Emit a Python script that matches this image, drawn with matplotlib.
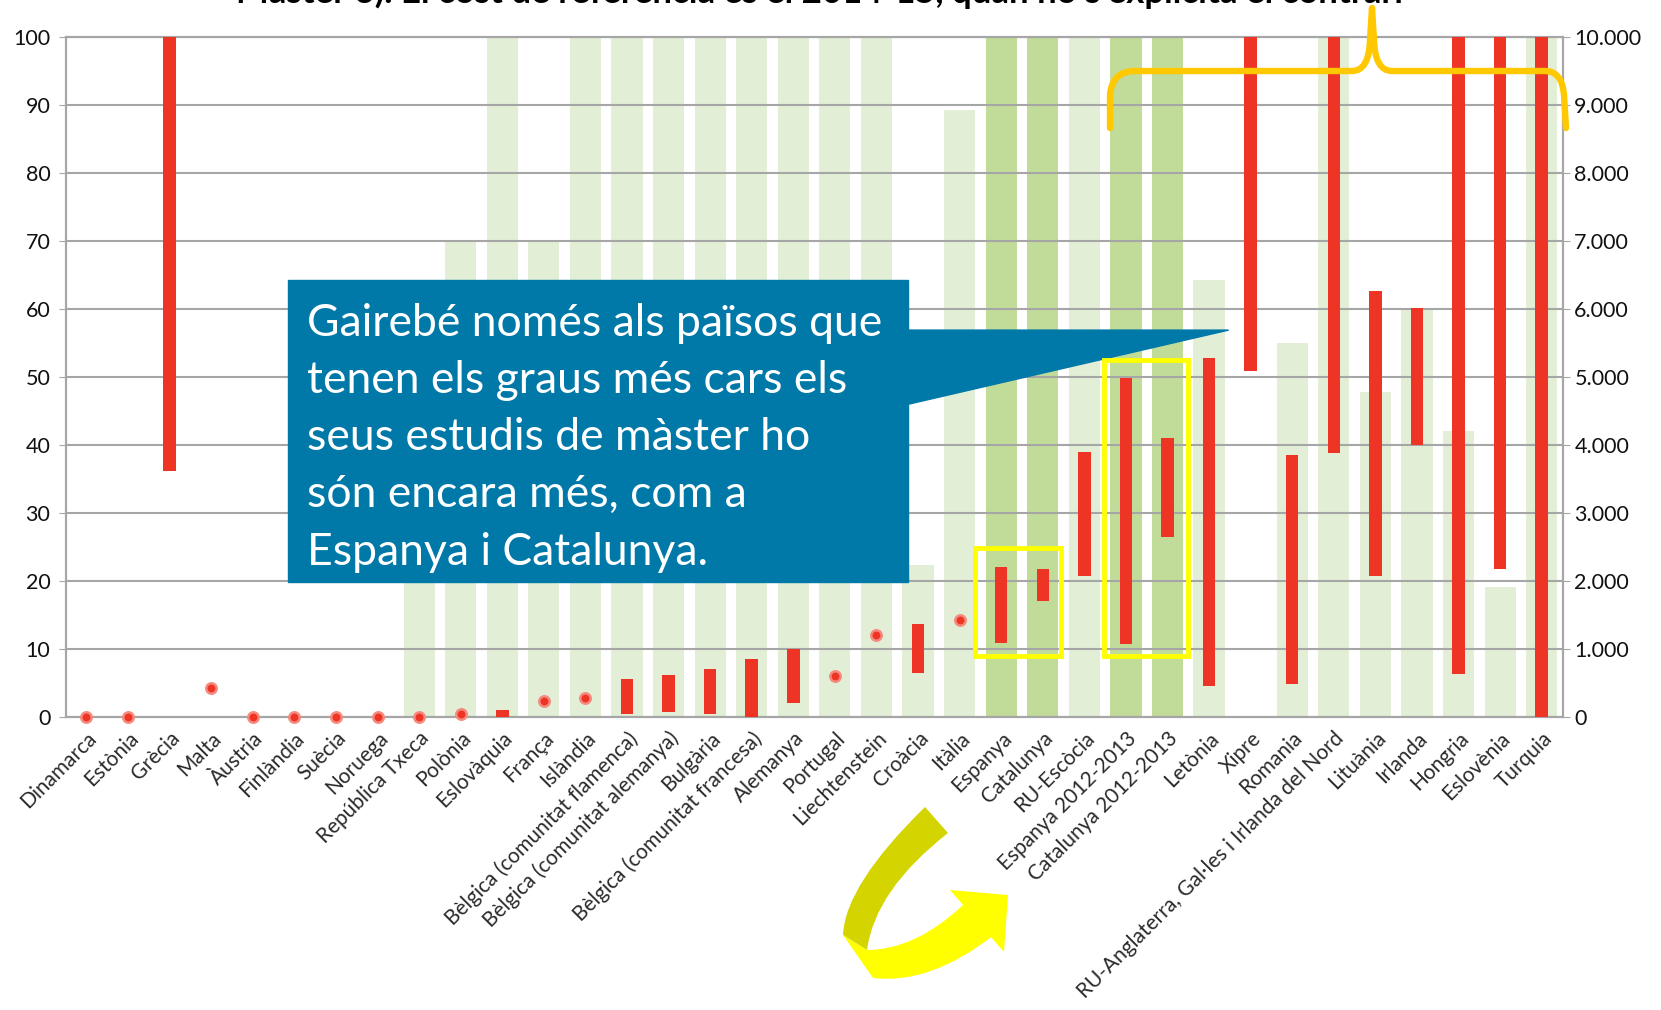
import matplotlib
matplotlib.use("Agg")
import matplotlib.pyplot as plt
from matplotlib.patches import Rectangle, Polygon, PathPatch
from matplotlib.path import Path
from matplotlib import font_manager
import numpy as np

# categories (left to right)
paisos = ["Dinamarca", "Estònia", "Grècia", "Malta", "Àustria", "Finlàndia", "Suècia",
          "Noruega", "República Txeca", "Polònia", "Eslovàquia", "França", "Islàndia",
          "Bèlgica (comunitat flamenca)", "Bèlgica (comunitat alemanya)", "Bulgària",
          "Bèlgica (comunitat francesa)", "Alemanya", "Portugal", "Liechtenstein",
          "Croàcia", "Itàlia", "Espanya", "Catalunya", "RU-Escòcia", "Espanya 2012-2013",
          "Catalunya 2012-2013", "Letònia", "Xipre", "Romania",
          "RU-Anglaterra, Gal·les i Irlanda del Nord", "Lituània", "Irlanda", "Hongria",
          "Eslovènia", "Turquia"]

# % d'estudiants que paguen (eix esquerre, barres verdes)
pct_pagant = [0, 0, 0, 0, 0, 0, 0, 0, 35, 70, 100, 70, 100, 100, 100, 100, 100, 100, 100,
              100, 22.4, 89.3, 100, 100, 100, 100, 100, 64.2, 0, 55, 100, 47.8, 60, 42.1,
              19.1, 100]
destacat = ["Espanya", "Catalunya", "Espanya 2012-2013", "Catalunya 2012-2013"]

# preu del màster en euros, mínim i màxim (eix dret, barres vermelles)
preu_min = [0, 0, 3620, 420, 0, 0, 0, 0, 0, 40, 0, 240, 280, 50, 70, 50, 0, 200, 610,
            1210, 650, 1430, 1090, 1700, 2080, 1070, 2650, 450, 5090, 480, 3880, 2080,
            4000, 630, 2170, 0]
preu_max = [0, 0, 10000, 420, 0, 0, 0, 0, 0, 40, 110, 240, 280, 560, 620, 710, 850, 1000,
            610, 1210, 1370, 1430, 2210, 2180, 3890, 4990, 4100, 5280, 10000, 3860, 10000,
            6260, 6010, 10000, 10000, 10000]

left_ticks = list(range(0, 101, 10))
right_ticks = list(range(0, 10001, 1000))
right_labels = ["0" if v == 0 else f"{v // 1000}.000" for v in right_ticks]

titol = "Màster 3). El cost de referència és el 2014-15, quan no s'explicita el contrari"
nota = ["Gairebé només als països que", "tenen els graus més cars els",
        "seus estudis de màster ho", "són encara més, com a", "Espanya i Catalunya."]


def pick(names):
    have = {f.name for f in font_manager.fontManager.ttflist}
    for n in names:
        if n in have:
            return n
    return "DejaVu Sans"


f_ticks = pick(["Lato", "DejaVu Sans"])
f_note = pick(["Lato", "Open Sans", "DejaVu Sans"])

W, H = 1661, 1010
fig = plt.figure(figsize=(W / 100, H / 100), dpi=100)
ax = fig.add_axes([65.7 / W, 1 - 717 / H, (1562.5 - 65.7) / W, (717 - 37) / H])
ax2 = ax.twinx()

x = np.arange(len(paisos))
light, dark, red, grid = "#E2EFD6", "#C0DC98", "#EE3424", "#A6A6A6"

cols = [dark if p in destacat else light for p in paisos]
ax.bar(x, pct_pagant, width=0.75, color=cols, zorder=1)
for v in left_ticks:
    ax.axhline(v, color=grid, lw=1.5, zorder=2)

lo = np.array(preu_min, float)
hi = np.array(preu_max, float)
rng = hi > lo
ax2.bar(x[rng], (hi - lo)[rng], bottom=lo[rng], width=0.3, color=red, zorder=3)
ax2.plot(x[~rng], lo[~rng], "o", ms=7.5, color=red, mec="#F58A7E", mew=1.8,
         linestyle="none", zorder=4, clip_on=False)

ax.set_xlim(-0.5, len(paisos) - 0.5)
ax.set_ylim(0, 100)
ax2.set_ylim(0, 10000)
ax.set_yticks(left_ticks)
ax2.set_yticks(right_ticks)
ax2.set_yticklabels(right_labels)
ax.set_xticks(x)
ax.set_xticklabels(paisos, rotation=45, ha="right", rotation_mode="anchor",
                   fontsize=15, family=f_ticks, color="#2a2a2a")
for a in (ax, ax2):
    for s in a.spines.values():
        s.set_color(grid)
        s.set_linewidth(1.5)
    a.tick_params(axis="y", length=5, color=grid, labelsize=15.5, labelcolor="#111111")
ax.tick_params(axis="y", pad=6)
ax.tick_params(axis="x", length=0, pad=8)
for t in ax.get_yticklabels() + ax2.get_yticklabels():
    t.set_family(f_ticks)

# callout box with pointer
T = ax.transData
ax2.add_patch(Rectangle((4.85, 19.9), 14.9, 44.3, color="#0078A8", transform=T,
                        zorder=6, clip_on=False))
ax2.add_patch(Polygon([(19.7, 56.9), (27.47, 56.9), (19.7, 45.9)], closed=True,
                      color="#0078A8", transform=T, zorder=6, clip_on=False))
for i, linia in enumerate(nota):
    ax2.text(5.31, 56.1 - 8.42 * i, linia, transform=T, color="white", fontsize=32,
             family=f_note, va="baseline", ha="left", zorder=7)

# yellow frames
for (x0, x1, y0, y1) in [(21.38, 23.45, 8.9, 24.8), (24.47, 26.5, 8.9, 52.5)]:
    ax2.add_patch(Rectangle((x0, y0), x1 - x0, y1 - y0, fill=False, ec="#FFFF00",
                            lw=3.5, transform=T, zorder=8, clip_on=False))


# shapes in figure pixels
def px(p):
    return (p[0] / W, 1 - p[1] / H)


def shape(pts, codes, **kw):
    fig.add_artist(PathPatch(Path([px(p) for p in pts], codes), transform=fig.transFigure,
                             **kw))


M, L, Q, C = Path.MOVETO, Path.LINETO, Path.CURVE3, Path.CLOSEPOLY
shape([(925, 807), (845, 885), (843, 935), (867, 950), (875, 890), (948, 833), (925, 807)],
      [M, Q, Q, L, Q, Q, C], color="#D4D400", lw=0, zorder=9)
shape([(843, 935), (873, 978), (930, 985), (994, 935), (963, 905), (915, 950), (867, 950),
       (843, 935)], [M, L, Q, Q, L, Q, Q, C], color="#FFFF00", lw=0, zorder=9)
shape([(950, 890), (1008, 895), (1004, 952), (950, 890)], [M, L, L, C], color="#FFFF00",
      lw=0, zorder=9)
# brace
shape([(1110, 128), (1110, 95), (1112, 71), (1135, 71), (1352, 71), (1369, 71),
       (1370, 40), (1372, 8), (1374, 40), (1375, 71), (1392, 71), (1545, 71),
       (1562, 71), (1564, 95), (1566, 128)],
      [M, L, Q, Q, L, Q, Q, L, L, Q, Q, L, Q, Q, L], fill=False, ec="#FFC800", lw=4.6,
      zorder=9, capstyle="round", joinstyle="round")

fig.text(820 / W, 1 - 3 / H, titol, ha="center", va="baseline", fontsize=25,
         fontweight="bold", family=f_note)

fig.savefig("out.png", dpi=100)
